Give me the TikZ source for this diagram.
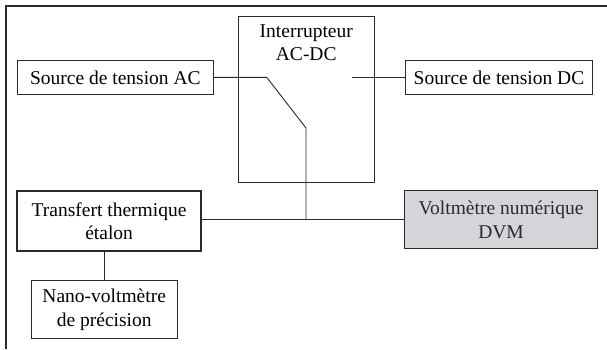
\documentclass[tikz,border=0pt]{standalone}
\usepackage{fontspec}
\setmainfont{Liberation Serif}
\definecolor{boxgray}{HTML}{D4D5D8}
\definecolor{ink}{HTML}{2A2A2A}
\begin{document}
\begin{tikzpicture}[x=1pt,y=-1pt,
  txt/.style={align=center,font=\fontsize{19.5}{23.5}\selectfont},
  box/.style={txt,draw=ink,line width=1pt,inner sep=0pt},
  wire/.style={draw=ink,line width=0.9pt}]
\useasboundingbox (0,0) rectangle (607,349);
\draw[ink,line width=2pt] (6,349) -- (6,6) -- (607,6);
% switch box
\node[box,minimum width=136.5pt,minimum height=166pt,anchor=north west] (sw) at (237.5,15.7) {};
\node[txt,anchor=north] (swt) at (sw.north) [yshift=-5pt] {Interrupteur\\AC-DC};
\node[box,minimum width=195.7pt,minimum height=34.3pt,anchor=north west] (ac) at (17,60) {Source de tension AC};
\node[box,minimum width=187pt,minimum height=34pt,anchor=north west] (dc) at (405,60) {Source de tension DC};
\node[box,line width=2.2pt,minimum width=184pt,minimum height=60pt,anchor=north west] (tt) at (16,190) {Transfert thermique\\étalon};
\node[box,fill=boxgray,minimum width=192.4pt,minimum height=58.3pt,anchor=north west,text=ink] (dvm) at (404.3,190) {Voltmètre numérique\\DVM};
\node[box,minimum width=146pt,minimum height=58.3pt,anchor=north west] (nv) at (30.7,280) {Nano-voltmètre\\de précision};
\coordinate (k1) at (266.7,77.3);
\coordinate (k2) at (306,128);
\coordinate (bus) at (306,219.3);
\coordinate (dcend) at (351.7,77.3);
\draw[wire] (ac.east |- k1) -- (k1) -- (k2) -- (bus);
\draw[wire] (dcend) -- (dc.west |- dcend);
\draw[wire] (tt.east |- bus) -- (dvm.west |- bus);
\draw[wire] (tt.south -| 104,0) -- (nv.north -| 104,0);
\end{tikzpicture}
\end{document}
